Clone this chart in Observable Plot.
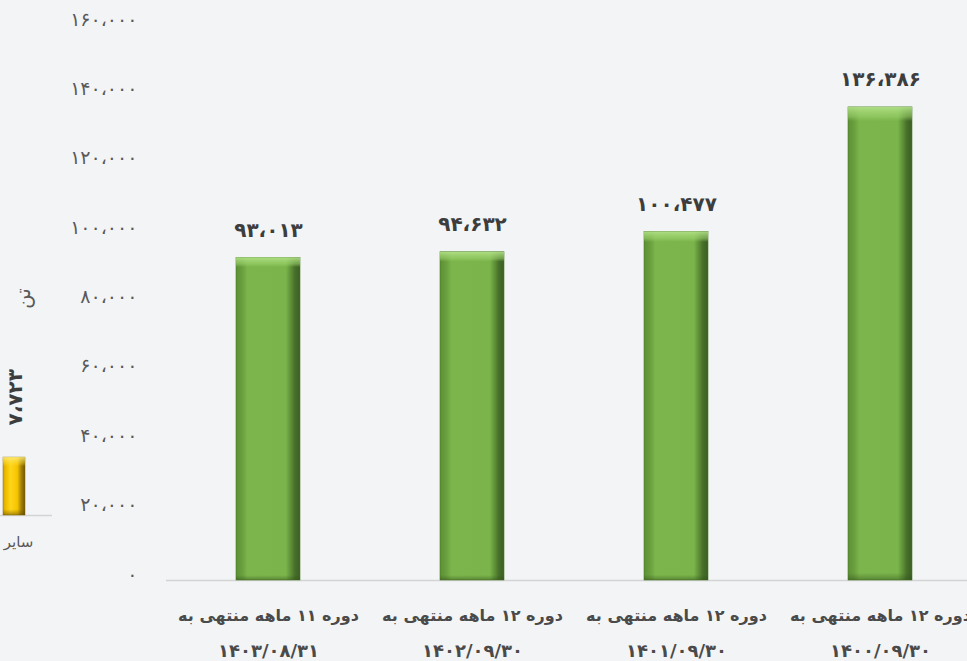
<!DOCTYPE html>
<html>
<head>
<meta charset="utf-8">
<script src="https://cdn.jsdelivr.net/npm/d3@7"></script>
<script src="https://cdn.jsdelivr.net/npm/@observablehq/plot@0.6"></script>
<style>
  html, body { margin: 0; padding: 0; background: #f3f4f6; }
  #wrap { position: relative; width: 967px; height: 661px; overflow: hidden; background: #f3f4f6; }
  #wrap svg { position: absolute; left: 0; top: 0; background: transparent; }
</style>
</head>
<body>
<div id="wrap"></div>
<script>
// ---- data (main chart) ----
const periods = ["دوره ۱۱ ماهه منتهی به", "دوره ۱۲ ماهه منتهی به", "دوره ۱۲ ماهه منتهی به", "دوره ۱۲ ماهه منتهی به"];
const dates = ["۱۴۰۳/۰۸/۳۱", "۱۴۰۲/۰۹/۳۰", "۱۴۰۱/۰۹/۳۰", "۱۴۰۰/۰۹/۳۰"];
const values = [93013, 94632, 100477, 136386];
const yTicks = [0, 20000, 40000, 60000, 80000, 100000, 120000, 140000, 160000];
const unitLabel = "تن";

// ---- data (cropped neighbouring chart on the left) ----
const otherCategories = ["سایر"];
const otherValues = [7723];

const faDigits = "۰۱۲۳۴۵۶۷۸۹";
const fa = v => d3.format(",")(v).replace(/\d/g, d => faDigits[d]).replace(/,/g, "،");

const rows = periods.map((p, i) => ({cat: dates[i], period: p, date: dates[i], value: values[i]}));
const otherRows = otherCategories.map((c, i) => ({cat: c, value: otherValues[i]}));

const font = "DejaVu Sans, sans-serif";

function defs() {
  const d = d3.create("svg:defs");
  const g = d.append("linearGradient").attr("id", "gH").attr("x1", 0).attr("x2", 1).attr("y1", 0).attr("y2", 0);
  [[0, "#5c9035"], [0.1, "#6aa03e"], [0.18, "#7cb54c"], [0.78, "#7ab44a"], [0.86, "#5c8e36"], [0.92, "#476f2a"], [1, "#3b5f22"]]
    .forEach(([o, c]) => g.append("stop").attr("offset", o).attr("stop-color", c));
  const v = d.append("linearGradient").attr("id", "gV").attr("x1", 0).attr("x2", 0).attr("y1", 0).attr("y2", 1);
  [[0, "#b4e38a", 0.9], [0.02, "#9fd46f", 0.55], [0.03, "#9fd46f", 0], [0.985, "#2f4d1a", 0], [1, "#2f4d1a", 0.45]]
    .forEach(([o, c, op]) => v.append("stop").attr("offset", o).attr("stop-color", c).attr("stop-opacity", op));
  const y = d.append("linearGradient").attr("id", "yH").attr("x1", 0).attr("x2", 1).attr("y1", 0).attr("y2", 0);
  [[0, "#d9a300"], [0.15, "#f0c000"], [0.35, "#ffd51a"], [0.65, "#f5c400"], [0.82, "#a88400"], [1, "#6f5600"]]
    .forEach(([o, c]) => y.append("stop").attr("offset", o).attr("stop-color", c));
  const yv = d.append("linearGradient").attr("id", "yV").attr("x1", 0).attr("x2", 0).attr("y1", 0).attr("y2", 1);
  [[0, "#fff08a", 0.8], [0.1, "#ffe34d", 0.4], [0.16, "#ffe34d", 0], [0.9, "#5a4500", 0], [1, "#5a4500", 0.5]]
    .forEach(([o, c, op]) => yv.append("stop").attr("offset", o).attr("stop-color", c).attr("stop-opacity", op));
  return d.node();
}

const main = Plot.plot({
  width: 967,
  height: 661,
  marginTop: 25,
  marginBottom: 81,
  marginLeft: 166,
  marginRight: 0,
  style: {background: "transparent", fontFamily: font},
  x: {domain: rows.map(d => d.cat), range: [166, 982], paddingInner: 0.686, paddingOuter: 0.343, axis: null},
  y: {domain: [0, 160000], axis: null},
  marks: [
    defs,
    Plot.ruleY([0], {stroke: "#d4d4d4", strokeWidth: 1.3}),
    Plot.text(yTicks, {y: d => d, text: d => fa(d), frameAnchor: "left", textAnchor: "end", dx: -29, dy: -6, fontSize: 19, fill: "#595959"}),
    Plot.barY(rows, {x: "cat", y: "value", fill: "url(#gH)", stroke: "#4c7a2b", strokeWidth: 0.6}),
    Plot.barY(rows, {x: "cat", y: "value", fill: "url(#gV)"}),
    Plot.text(rows, {x: "cat", y: "value", text: d => fa(d.value), lineAnchor: "bottom", dy: -21, fontSize: 20, fontWeight: "bold", fill: "#3d3d3d"}),
    Plot.text(rows, {x: "cat", y: 0, text: "period", lineAnchor: "middle", dy: 35, fontSize: 16, fontWeight: "bold", fill: "#4a4a4a"}),
    Plot.text(rows, {x: "cat", y: 0, text: "date", lineAnchor: "middle", dy: 71, fontSize: 18, fontWeight: "bold", fill: "#4a4a4a"}),
    Plot.text([unitLabel], {frameAnchor: "left", rotate: -90, dx: -143, dy: 6, fontSize: 20, fill: "#595959"})
  ]
});

const other = Plot.plot({
  width: 52,
  height: 661,
  marginTop: 0,
  marginBottom: 0,
  marginLeft: 0,
  marginRight: 0,
  style: {background: "transparent", fontFamily: font, overflow: "visible"},
  x: {domain: otherCategories, range: [3, 25], padding: 0, axis: null},
  y: {domain: [0, 10000], range: [515, 440], axis: null},
  marks: [
    Plot.ruleY([0], {stroke: "#d4d4d4", strokeWidth: 1.3}),
    Plot.barY(otherRows, {x: "cat", y: "value", fill: "url(#yH)", stroke: "#8a6b00", strokeWidth: 0.5}),
    Plot.barY(otherRows, {x: "cat", y: "value", fill: "url(#yV)"}),
    Plot.text(otherRows, {x: "cat", y: "value", text: d => fa(d.value), rotate: -90, textAnchor: "start", dy: -32, dx: 1, fontSize: 20, fontWeight: "bold", fill: "#3d3d3d"}),
    Plot.text(otherRows, {x: "cat", y: 0, text: "cat", lineAnchor: "top", dy: 21, dx: 4, fontSize: 15, fill: "#595959"})
  ]
});

const wrap = document.getElementById("wrap");
wrap.appendChild(main);
wrap.appendChild(other);
</script>
</body>
</html>
